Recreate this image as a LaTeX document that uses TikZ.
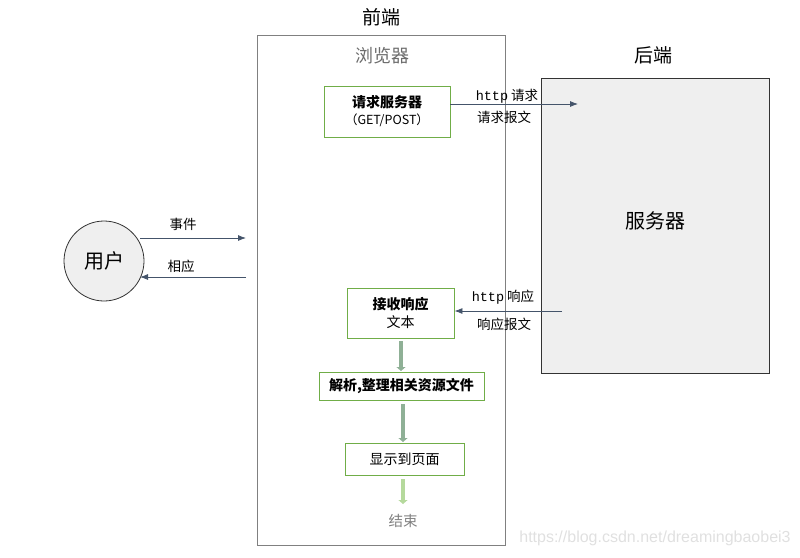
\documentclass[tikz,border=0pt]{standalone}
\usepackage{fontspec}
\setmainfont{Noto Sans CJK SC}
\newfontfamily\cjk{Noto Sans CJK SC}
\newfontfamily\monof{Liberation Mono}
\newfontfamily\latinf{Liberation Sans}
\usetikzlibrary{arrows.meta}
\definecolor{linec}{HTML}{44546A}
\definecolor{greenb}{HTML}{70AD47}
\definecolor{boxgray}{HTML}{808080}
\definecolor{fillg}{HTML}{EFEFEF}
\definecolor{thickar}{HTML}{8FB096}
\definecolor{lightar}{HTML}{B5D99C}
\tikzset{
  stepbox/.style={draw=greenb, line width=0.9pt, inner sep=0pt, align=center},
  conn/.style={draw=linec, line width=0.8pt, -{Latex[length=8pt,width=6pt]}},
  flowar/.style={draw=thickar, line width=4pt, -{Triangle[length=4pt,width=9pt]}},
  lab/.style={font=\fontsize{13.5}{15}\selectfont, inner sep=0pt},
}
\begin{document}
\begin{tikzpicture}[x=1pt,y=-1pt]
\useasboundingbox (0,0) rectangle (800,557);
% front-end frame
\node[font=\fontsize{19}{22}\selectfont] (fe) at (381,17) {前端};
\draw[boxgray, line width=0.8pt] (257,35) rectangle (505,545);
\node (browser) at (382,56) [font=\fontsize{18}{21}\selectfont, text=gray!85!black] {浏览器};
% back-end
\node[font=\fontsize{19}{22}\selectfont] (be) at (653,55) {后端};
\node[draw=black!80, line width=0.8pt, fill=fillg, minimum width=228pt, minimum height=295pt, inner sep=0pt] (server) at (655,225.5) {};
\node[font=\fontsize{20}{23}\selectfont] (servertxt) at (655,221) {服务器};
% user
\node[circle, draw=black!80, line width=0.8pt, fill=fillg, minimum size=80pt, inner sep=0pt,
      font=\fontsize{20}{23}\selectfont] (user) at (104,261) {用户};
\coordinate (evL) at (140,238);
\coordinate (evR) at (246,238);
\coordinate (reL) at (140,277);
\coordinate (reR) at (246,277);
\draw[conn] (evL) -- (evR);
\draw[conn] (reR) -- (reL);
\node[lab] (evlab) at (183,224) {事件};
\node[lab] (relab) at (181,266) {相应};
% request box
\node[stepbox, minimum width=126pt, minimum height=51pt] (req) at (387,111.5)
  {{\bfseries\fontsize{14}{17}\selectfont 请求服务器}\\[4pt]{\fontsize{12.5}{15}\selectfont （GET/POST）}};
\coordinate (reqEnd) at (578,104);
\draw[conn] (req.east |- reqEnd) -- (reqEnd);
\node[lab] (hreq) at (507,96) {{\monof http} 请求};
\node[lab] (reqmsg) at (504,117) {请求报文};
% receive box
\node[stepbox, minimum width=107pt, minimum height=50pt] (recv) at (400.5,313)
  {{\bfseries\fontsize{14}{17}\selectfont 接收响应}\\[3pt]{\fontsize{14}{17}\selectfont 文本}};
\coordinate (respStart) at (562,311);
\draw[conn] (respStart) -- (recv.east |- respStart);
\node[lab] (hresp) at (503,297) {{\monof http} 响应};
\node[lab] (respmsg) at (504,324) {响应报文};
% parse box
\node[stepbox, minimum width=165pt, minimum height=28pt, font=\bfseries\fontsize{14}{17}\selectfont] (parse) at (401.5,386) {解析,整理相关资源文件};
% display box
\node[stepbox, minimum width=119pt, minimum height=32pt, font=\fontsize{14}{17}\selectfont] (show) at (404.5,459) {显示到页面};
% end
\node[font=\fontsize{14.5}{17}\selectfont, text=gray] (endn) at (403,521) {结束};
% flow arrows
\coordinate (f1s) at (401,341);
\coordinate (f1e) at (401,371);
\coordinate (f2s) at (403,404);
\coordinate (f2e) at (403,442);
\coordinate (f3s) at (403,479);
\coordinate (f3e) at (403,504);
\draw[flowar] (f1s) -- (f1e);
\draw[flowar] (f2s) -- (f2e);
\draw[flowar, draw=lightar] (f3s) -- (f3e);
% watermark
\node[font=\latinf\fontsize{16}{18}\selectfont, text=black!12] (wm) at (655,538) {https://blog.csdn.net/dreamingbaobei3};
\end{tikzpicture}
\end{document}
